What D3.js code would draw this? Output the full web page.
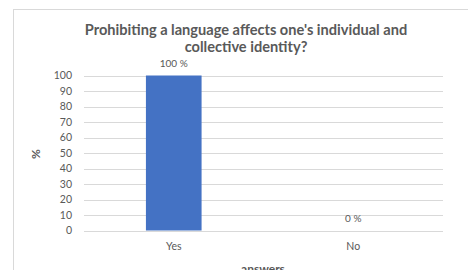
<!DOCTYPE html>
<html><head><meta charset="utf-8">
<script src="https://cdn.jsdelivr.net/npm/d3@7"></script>
<style>body{margin:0;background:#fff;}svg{display:block;}</style>
</head><body>
<script>
const categories = ["Yes", "No"];
const values = [100, 0];
const valueLabels = ["100 %", "0 %"];
const yTicks = [0,10,20,30,40,50,60,70,80,90,100];
const titleLines = ["Prohibiting a language affects one's individual and", "collective identity?"];

const W = 468, H = 270;
const svg = d3.select("body").append("svg").attr("width", W).attr("height", H);
const font = "Lato, Calibri, 'Open Sans', sans-serif";
const grey = "#595959";

svg.append("rect").attr("x", 13.5).attr("y", 9.5).attr("width", 470).attr("height", 280)
  .attr("fill", "#fff").attr("stroke", "#d9d9d9");

const x = d3.scaleBand().domain(categories).range([84, 443]).paddingInner(0).paddingOuter(0);
const y = d3.scaleLinear().domain([0, 100]).range([230.5, 75.5]);

const grid = svg.append("g");
grid.selectAll("line").data(yTicks).join("line")
  .attr("x1", 84).attr("x2", 443)
  .attr("y1", d => Math.round(y(d)) + 0.5).attr("y2", d => Math.round(y(d)) + 0.5)
  .attr("stroke", "#d9d9d9").attr("stroke-width", 1);

const yAxis = d3.axisLeft(y).tickValues(yTicks).tickSize(0).tickPadding(0);
const gy = svg.append("g").attr("transform", "translate(72,0)").call(yAxis);
gy.select(".domain").remove();
gy.selectAll("text").attr("font-family", font).attr("font-size", 10.5).attr("fill", grey);

const bw = x.bandwidth() * 0.31;
svg.selectAll("rect.bar").data(values).join("rect").attr("class", "bar")
  .attr("x", (d, i) => x(categories[i]) + x.bandwidth() / 2 - bw / 2)
  .attr("y", d => y(d)).attr("width", bw).attr("height", d => y(0) - y(d))
  .attr("fill", "#4472C4");

svg.selectAll("text.vl").data(values).join("text").attr("class", "vl")
  .attr("x", (d, i) => x(categories[i]) + x.bandwidth() / 2)
  .attr("y", d => y(d) - 8.5)
  .attr("text-anchor", "middle").attr("font-family", font).attr("font-size", 10).attr("fill", grey)
  .text((d, i) => valueLabels[i]);

const xAxis = d3.axisBottom(x).tickSize(0).tickPadding(0);
const gx = svg.append("g").attr("transform", "translate(0,243)").call(xAxis);
gx.select(".domain").remove();
gx.selectAll("text").attr("font-family", font).attr("font-size", 10.5).attr("fill", grey);

svg.append("text").attr("x", 263).attr("y", 273).attr("text-anchor", "middle")
  .attr("font-family", font).attr("font-size", 12).attr("font-weight", "bold").attr("fill", grey).text("answers");

svg.append("text").attr("transform", "translate(40,154) rotate(-90)").attr("text-anchor", "middle")
  .attr("font-family", font).attr("font-size", 12).attr("font-weight", "bold").attr("fill", grey).text("%");

svg.selectAll("text.title").data(titleLines).join("text").attr("class", "title")
  .attr("x", 246).attr("y", (d, i) => 35 + i * 17).attr("text-anchor", "middle")
  .attr("font-family", font).attr("font-size", 14.6).attr("font-weight", "bold").attr("fill", grey)
  .text(d => d);
</script>
</body></html>
